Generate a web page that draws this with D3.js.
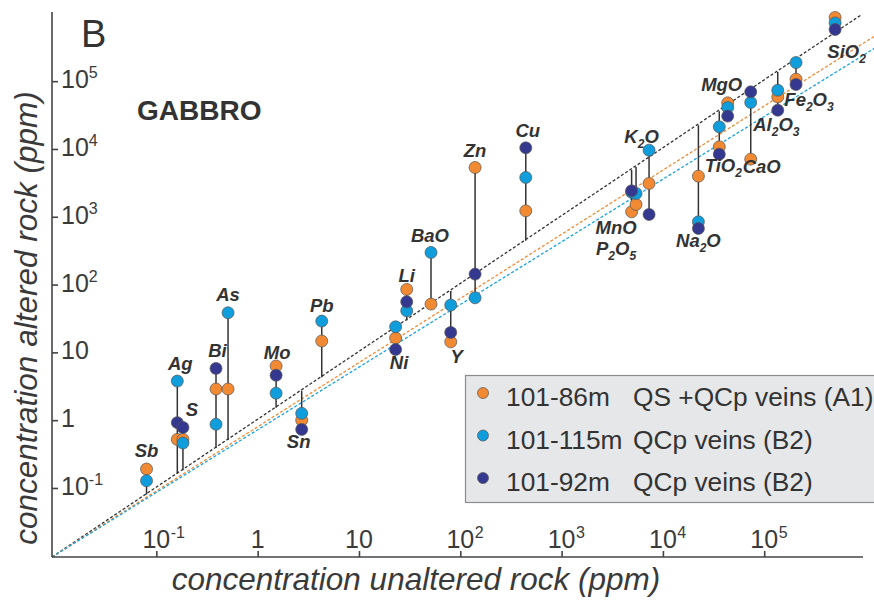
<!DOCTYPE html>
<html><head><meta charset="utf-8">
<script src="https://cdn.jsdelivr.net/npm/d3@7"></script>
<style>
html,body{margin:0;padding:0;background:#fff;}
svg{display:block;font-family:"Liberation Sans",Arial,Helvetica,sans-serif;}
</style></head><body>
<svg id="chart" width="874" height="600"></svg>
<script>
// ---------------- DATA ----------------
const elements   = ["Sb","Ag","S","Bi","As","Mo","Sn","Pb","Ni","Li","BaO","Y","Zn","Cu","MnO","P2O5","K2O","Na2O","TiO2","MgO","CaO","Al2O3","Fe2O3","SiO2"];
const unaltered  = [0.080,0.161,0.183,0.388,0.51,1.52,2.72,4.29,23,29.6,51.4,80.5,140,443,4910,5430,7300,22400,36000,43600,73600,136000,206000,501000];
const altered86  = [0.19,0.52,0.52,2.88,2.88,6.3,1.0,14.7,16.3,84.9,51.5,14.3,5330,1222,1183,1520,3100,3970,10740,47900,7080,58600,107000,869000];
const altered115 = [0.128,3.77,0.46,0.87,38.4,2.5,1.26,28.9,23.8,41,298,49.8,63.8,3800,2300,2210,9600,841,21200,40900,48500,73600,188000,723000];
const altered92  = [null,0.92,0.78,5.8,null,4.6,0.73,null,11,55.7,null,19.7,142.6,10380,2410,null,1082,673,8380,30500,69500,37300,89300,578000];

const seriesNames = ["101-86m", "101-115m", "101-92m"];
const seriesDesc  = ["QS +QCp veins (A1)", "QCp veins (B2)", "QCp veins (B2)"];

// isocon lines (start / end points in data units)
const isoconNames = ["constant mass", "A1", "B2"];
const isoconStart = [[0.00933, 0.00959], [0.00933, 0.00959], [0.00933, 0.00959]];
const isoconEnd   = [[925000, 970000], [1230000, 462000], [1230000, 306000]];

const xTickValues = [0.1, 1, 10, 100, 1000, 10000, 100000];
const xTickBase   = ["10", "1", "10", "10", "10", "10", "10"];
const xTickExp    = ["-1", "", "", "2", "3", "4", "5"];
const yTickValues = [0.1, 1, 10, 100, 1000, 10000, 100000];
const yTickBase   = ["10", "1", "10", "10", "10", "10", "10"];
const yTickExp    = ["-1", "", "", "2", "3", "4", "5"];

// ---------------- LAYOUT / STYLE ----------------
const seriesColors = ["#f18a33", "#0f9ddb", "#35388f"];
const isoconColors = ["#333333", "#f18a33", "#1aa3e3"];
// label placement: [reference ("top"/"bottom" point), dx px, dy px]
const labelPlacement = {
  Sb:["top",0,-12], Ag:["top",3,-11], S:["top",9,-11], Bi:["top",1.5,-11], As:["top",0,-12],
  Mo:["top",1,-7], Sn:["bottom",-3,19], Pb:["top",0,-9], Ni:["bottom",3.5,19.5], Li:["top",0,-7.6],
  BaO:["top",-1,-10.6], Y:["bottom",6,21.6], Zn:["top",0,-10], Cu:["top",2,-11],
  MnO:["bottom",-15.5,22.5], P2O5:["bottom",-20,50.5], K2O:["top",-7.5,-6.7], Na2O:["bottom",0,18.4],
  TiO2:["bottom",4,17.7], MgO:["top",-6,-12], CaO:["bottom",11,14.3], Al2O3:["bottom",-1.4,20.7],
  Fe2O3:["bottom",13,21.7], SiO2:["bottom",11.5,29]
};

const svg = d3.select("#chart");
const x = d3.scaleLog().domain([Math.pow(10,-2.03), Math.pow(10,5.975)]).range([52, 863]);
const y = d3.scaleLog().domain([Math.pow(10,-2.018), Math.pow(10,6.02)]).range([557, 12]);

const textCol = "#333333";

// isocon lines
const lineGen = d3.line().x(d => x(d[0])).y(d => y(d[1]));
isoconNames.forEach((n, i) => {
  svg.append("path")
    .attr("d", lineGen([isoconStart[i], isoconEnd[i]]))
    .attr("fill", "none")
    .attr("stroke", isoconColors[i])
    .attr("stroke-width", 1.3)
    .attr("stroke-dasharray", "3,2");
});

// axes
const xAxis = d3.axisTop(x).tickValues(xTickValues).tickSize(6).tickSizeOuter(0).tickFormat(() => "");
const gx = svg.append("g").attr("transform", "translate(0,557)").call(xAxis);
const yAxis = d3.axisRight(y).tickValues(yTickValues).tickSize(6).tickSizeOuter(0).tickFormat(() => "");
const gy = svg.append("g").attr("transform", "translate(52,0)").call(yAxis);
[gx, gy].forEach(g => {
  g.selectAll("path.domain").attr("stroke", "#444").attr("stroke-width", 1.6);
  g.selectAll(".tick line").attr("stroke", "#444").attr("stroke-width", 1.6);
});
gx.select("path.domain").attr("d", `M${x.range()[0]},0H${x.range()[1]}`);
gy.select("path.domain").attr("d", `M0,${y.range()[0]}V${y.range()[1]}`);

// x tick labels
xTickValues.forEach((v, i) => {
  const t = svg.append("text")
    .attr("x", x(v)).attr("y", 548)
    .attr("text-anchor", "middle")
    .attr("font-size", 25).attr("fill", "#3a3a3a")
    .text(xTickBase[i]);
  if (xTickExp[i]) {
    const bb = t.node().getBBox();
    svg.append("text")
      .attr("x", bb.x + bb.width + 0.5).attr("y", 538)
      .attr("font-size", 16).attr("fill", "#3a3a3a")
      .text(xTickExp[i]);
  }
});
// y tick labels
yTickValues.forEach((v, i) => {
  const t = svg.append("text")
    .attr("x", 61).attr("y", y(v) + 7)
    .attr("font-size", 25).attr("fill", "#3a3a3a");
  t.append("tspan").text(yTickBase[i]);
  if (yTickExp[i]) t.append("tspan").attr("dy", -10).attr("font-size", 16).text(yTickExp[i]);
});

// drop lines
elements.forEach((el, i) => {
  const vals = [altered86[i], altered115[i], altered92[i], unaltered[i]].filter(v => v != null);
  svg.append("line")
    .attr("x1", x(unaltered[i])).attr("x2", x(unaltered[i]))
    .attr("y1", y(d3.max(vals))).attr("y2", y(d3.min(vals)))
    .attr("stroke", "#333").attr("stroke-width", 1.5);
});

// markers
[altered86, altered115, altered92].forEach((arr, s) => {
  svg.append("g").selectAll("circle")
    .data(elements.map((el, i) => ({x: unaltered[i], y: arr[i]})).filter(d => d.y != null))
    .join("circle")
    .attr("cx", d => x(d.x)).attr("cy", d => y(d.y))
    .attr("r", 6)
    .attr("fill", seriesColors[s])
    .attr("stroke", "#555").attr("stroke-width", 0.7);
});

// element labels (digits -> subscripts)
function addFormula(textSel, name, subSize, shift) {
  const parts = name.match(/[A-Za-z]+|\d+/g);
  let lowered = false;
  parts.forEach(p => {
    const isNum = /^\d+$/.test(p);
    const ts = textSel.append("tspan").text(p);
    if (isNum && !lowered) { ts.attr("dy", shift).attr("font-size", subSize); lowered = true; }
    else if (isNum) { ts.attr("font-size", subSize); }
    else if (lowered) { ts.attr("dy", -shift); lowered = false; }
  });
}
elements.forEach((el, i) => {
  const vals = [altered86[i], altered115[i], altered92[i]].filter(v => v != null);
  const [ref, dx, dy] = labelPlacement[el];
  const yRef = ref === "top" ? y(d3.max(vals)) : y(d3.min(vals));
  const t = svg.append("text")
    .attr("x", x(unaltered[i]) + dx).attr("y", yRef + dy)
    .attr("text-anchor", "middle")
    .attr("font-size", 18.5).attr("font-weight", "bold").attr("font-style", "italic")
    .attr("fill", textCol);
  addFormula(t, el, 12, 5);
});

// panel letter & title
svg.append("text").attr("x", 81).attr("y", 47).attr("font-size", 38).attr("fill", textCol).text("B");
svg.append("text").attr("x", 137).attr("y", 120).attr("font-size", 28).attr("font-weight", "bold").attr("fill", textCol).text("GABBRO");

// axis titles
svg.append("text").attr("x", 416).attr("y", 590).attr("text-anchor", "middle")
  .attr("font-size", 31.5).attr("font-style", "italic").attr("fill", "#3a3a3a")
  .text("concentration unaltered rock (ppm)");
svg.append("text").attr("transform", "translate(37,318) rotate(-90)").attr("text-anchor", "middle")
  .attr("font-size", 31.5).attr("font-style", "italic").attr("fill", "#3a3a3a")
  .text("concentration altered rock (ppm)");

// legend
const lg = svg.append("g");
lg.append("rect").attr("x", 465.5).attr("y", 375.5).attr("width", 420).attr("height", 127)
  .attr("fill", "#e6e7e8").attr("stroke", "#8c8c8c").attr("stroke-width", 1.2);
seriesNames.forEach((n, i) => {
  const cy = 393 + i * 42.5;
  lg.append("circle").attr("cx", 483).attr("cy", cy).attr("r", 5.5)
    .attr("fill", seriesColors[i]).attr("stroke", "#555").attr("stroke-width", 0.7);
  lg.append("text").attr("x", 506).attr("y", cy + 13).attr("font-size", 26.3).attr("fill", textCol).text(n);
  lg.append("text").attr("x", 633).attr("y", cy + 13).attr("font-size", 26.3).attr("fill", textCol).text(seriesDesc[i]);
});
</script></body></html>
